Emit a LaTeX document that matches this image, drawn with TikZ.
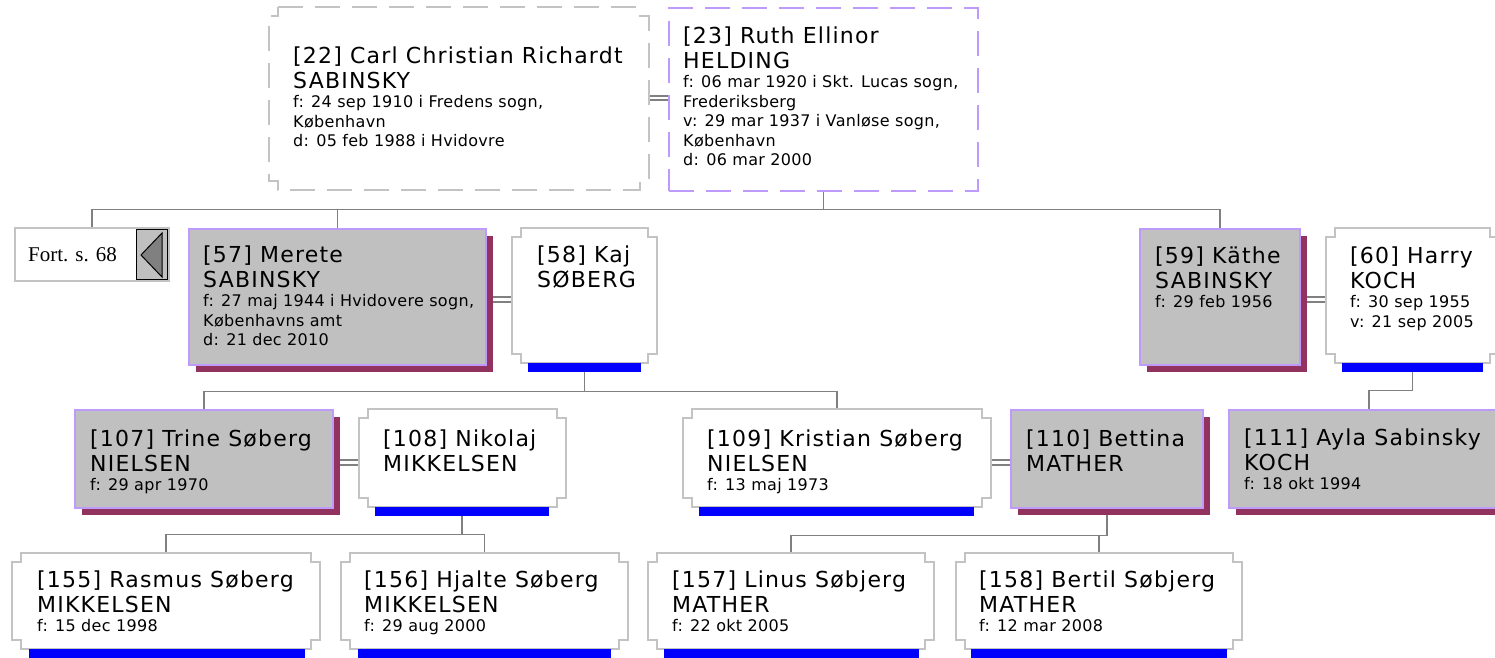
\documentclass[tikz,border=0pt]{standalone}
\usepackage{fontspec}
\setmainfont{DejaVu Sans}
\newfontfamily\bigF[LetterSpace=5.5]{DejaVu Sans}
\newfontfamily\smF[LetterSpace=2]{DejaVu Sans}
\newfontfamily\fortF{Liberation Serif}
\usetikzlibrary{calc,backgrounds}
\definecolor{boxgray}{RGB}{192,192,192}
\definecolor{lav}{RGB}{190,155,250}
\definecolor{shad}{RGB}{145,50,95}
\definecolor{linegray}{RGB}{128,128,128}
\definecolor{edgegray}{RGB}{195,195,195}
\definecolor{arrowgray}{RGB}{128,128,128}
\tikzset{
  conn/.style={draw=linegray, line width=1.5pt},
  wed/.style={draw=edgegray, line width=1.6pt, fill=white},
  gbox/.style={draw=lav, line width=1.5pt, fill=boxgray, anchor=north west, inner sep=0pt},
  frame/.style={anchor=north west, inner sep=0pt},
  shadowbox/.style={fill=shad, anchor=north west, inner sep=0pt},
  barbox/.style={fill=blue, anchor=north west, inner sep=0pt, minimum height=9pt},
  ptext/.style={anchor=base west, inner sep=0pt, text=black},
  topdash/.style={line width=1.5pt, dash pattern=on 25pt off 12pt},
}
\newcommand\BL[1]{\hbox{\bigF\fontsize{22}{25}\selectfont #1}}
\newcommand\SL[1]{\baselineskip=19.5pt\hbox{\smF\fontsize{16}{19}\selectfont #1}}
\newcommand\ptxt[4]{\node[ptext] (#1) at (#2,#3) {\vtop{\lineskiplimit=-100pt\baselineskip=25pt #4}};}
\newcommand\gperson[5]{%
  \node[shadowbox, minimum width={#4-#2}, minimum height={#5-#3}] (#1sh) at (#2+8,#3+8) {};
  \node[gbox, minimum width={#4-#2}, minimum height={#5-#3}] (#1) at (#2,#3) {};}
\newcommand\notchpath[4]{(#1+9,#2) -- (#3-9,#2) -- (#3-9,#2+9) -- (#3,#2+9) -- (#3,#4-9) -- (#3-9,#4-9) -- (#3-9,#4) -- (#1+9,#4) -- (#1+9,#4-9) -- (#1,#4-9) -- (#1,#2+9) -- (#1+9,#2+9) -- cycle}
\newcommand\wperson[7]{%
  \node[frame, minimum width={#4-#2}, minimum height={#5-#3}] (#1) at (#2,#3) {};
  \path[wed] \notchpath{#2}{#3}{#4}{#5};
  \node[barbox, minimum width={#7-#6}] (#1bar) at (#6,#5) {};}
\begin{document}
\begin{tikzpicture}[x=1pt,y=-1pt]
\useasboundingbox (0,0) rectangle (1495,657);

% ---- generation 1
\node[frame, minimum width=380, minimum height=183] (n22) at (269,7) {};
\path[draw=edgegray, topdash] \notchpath{269}{7}{649}{190};
\node[frame, draw=lav, topdash, minimum width=309, minimum height=183] (n23) at (668,7) {};
\ptxt{t22}{293}{63}{\BL{[22] Carl Christian Richardt}\BL{SABINSKY}\SL{f: 24 sep 1910 i Fredens sogn,}\SL{København}\SL{d: 05 feb 1988 i Hvidovre}}
\ptxt{t23}{683}{43}{\BL{[23] Ruth Ellinor}\BL{HELDING}\SL{f: 06 mar 1920 i Skt. Lucas sogn,}\SL{Frederiksberg}\SL{v: 29 mar 1937 i Vanløse sogn,}\SL{København}\SL{d: 06 mar 2000}}

% ---- generation 2
\node[frame, draw=edgegray, line width=1.5pt, fill=white, minimum width=154, minimum height=53] (fort) at (14,227) {};
\node[anchor=base west, inner sep=0pt, font=\fortF\fontsize{21}{21}\selectfont] (forttxt) at (28,261) {Fort. s. 68};
\node[frame, draw=black, fill=boxgray, line width=1pt, minimum width=31, minimum height=50] (fortbtn) at (136,229) {};
\filldraw[fill=arrowgray, draw=black, line width=1pt] (141,255) -- (162,233) -- (162,277) -- cycle;

\gperson{n57}{188}{228}{485}{364}
\ptxt{t57}{203}{262}{\BL{[57] Merete}\BL{SABINSKY}\SL{f: 27 maj 1944 i Hvidovere sogn,}\SL{Københavns amt}\SL{d: 21 dec 2010}}
\wperson{n58}{512}{228}{657}{363}{528}{641}
\ptxt{t58}{537}{262}{\BL{[58] Kaj}\BL{SØBERG}}
\gperson{n59}{1139}{228}{1299}{364}
\ptxt{t59}{1155}{263}{\BL{[59] Käthe}\BL{SABINSKY}\SL{f: 29 feb 1956}}
\wperson{n60}{1326}{228}{1499}{363}{1342}{1483}
\ptxt{t60}{1350}{263}{\BL{[60] Harry}\BL{KOCH}\SL{f: 30 sep 1955}\SL{v: 21 sep 2005}}

% ---- generation 3
\gperson{n107}{74}{409}{332}{507}
\ptxt{t107}{90}{446}{\BL{[107] Trine Søberg}\BL{NIELSEN}\SL{f: 29 apr 1970}}
\wperson{n108}{359}{409}{566}{507}{375}{549}
\ptxt{t108}{383}{446}{\BL{[108] Nikolaj}\BL{MIKKELSEN}}
\wperson{n109}{683}{409}{991}{507}{699}{974}
\ptxt{t109}{707}{446}{\BL{[109] Kristian Søberg}\BL{NIELSEN}\SL{f: 13 maj 1973}}
\gperson{n110}{1010}{409}{1202}{507}
\ptxt{t110}{1026}{446}{\BL{[110] Bettina}\BL{MATHER}}
\gperson{n111}{1228}{409}{1508}{507}
\ptxt{t111}{1244}{445}{\BL{[111] Ayla Sabinsky}\BL{KOCH}\SL{f: 18 okt 1994}}

% ---- generation 4
\wperson{n155}{12}{553}{320}{649}{29}{305}
\ptxt{t155}{37}{587}{\BL{[155] Rasmus Søberg}\BL{MIKKELSEN}\SL{f: 15 dec 1998}}
\wperson{n156}{341}{553}{628}{649}{358}{611}
\ptxt{t156}{364}{587}{\BL{[156] Hjalte Søberg}\BL{MIKKELSEN}\SL{f: 29 aug 2000}}
\wperson{n157}{648}{553}{934}{649}{664}{919}
\ptxt{t157}{672}{587}{\BL{[157] Linus Søbjerg}\BL{MATHER}\SL{f: 22 okt 2005}}
\wperson{n158}{956}{553}{1242}{649}{971}{1227}
\ptxt{t158}{979}{587}{\BL{[158] Bertil Søbjerg}\BL{MATHER}\SL{f: 12 mar 2008}}

% ---- connectors (behind the boxes)
\begin{pgfonlayer}{background}
\fill[white] (0,0) rectangle (1495,657);
% marriages
\draw[conn] ($(n22.north east)+(0,89)$) -- ($(n23.north west)+(0,89)$);
\draw[conn] ($(n22.north east)+(0,93)$) -- ($(n23.north west)+(0,93)$);
\draw[conn] ($(n57.north east)+(0,69)$) -- ($(n58.north west)+(0,69)$);
\draw[conn] ($(n57.north east)+(0,74)$) -- ($(n58.north west)+(0,74)$);
\draw[conn] ($(n59.north east)+(0,69)$) -- ($(n60.north west)+(0,69)$);
\draw[conn] ($(n59.north east)+(0,74)$) -- ($(n60.north west)+(0,74)$);
\draw[conn] ($(n107.north east)+(0,51)$) -- ($(n108.north west)+(0,51)$);
\draw[conn] ($(n107.north east)+(0,56)$) -- ($(n108.north west)+(0,56)$);
\draw[conn] ($(n109.north east)+(0,51)$) -- ($(n110.north west)+(0,51)$);
\draw[conn] ($(n109.north east)+(0,56)$) -- ($(n110.north west)+(0,56)$);
% descent
\coordinate (j1) at ($(n23.south)+(0,18)$);
\draw[conn] (n23.south) -- (j1);
\draw[conn] (fort.north) |- (j1) -| (n59.north);
\draw[conn] (n57.north) -- (n57.north |- j1);
\coordinate (j2) at ($(n58bar.south)+(0,19)$);
\draw[conn] (n58bar.south) -- (j2);
\draw[conn] (n107.north) |- (j2) -| (n109.north);
\coordinate (j3) at ($(n60bar.south)+(0,18)$);
\draw[conn] (n60bar.south) -- (j3) -| (n111.north);
\coordinate (j4) at ($(n108bar.south)+(0,18)$);
\draw[conn] (n108bar.south) -- (j4);
\draw[conn] (n155.north) |- (j4) -| (n156.north);
\coordinate (j5) at ($(n110.south)+(0,27)$);
\draw[conn] (n110.south) -- (j5);
\draw[conn] (n157.north) |- (j5) -| (n158.north);
\end{pgfonlayer}
\end{tikzpicture}
\end{document}
